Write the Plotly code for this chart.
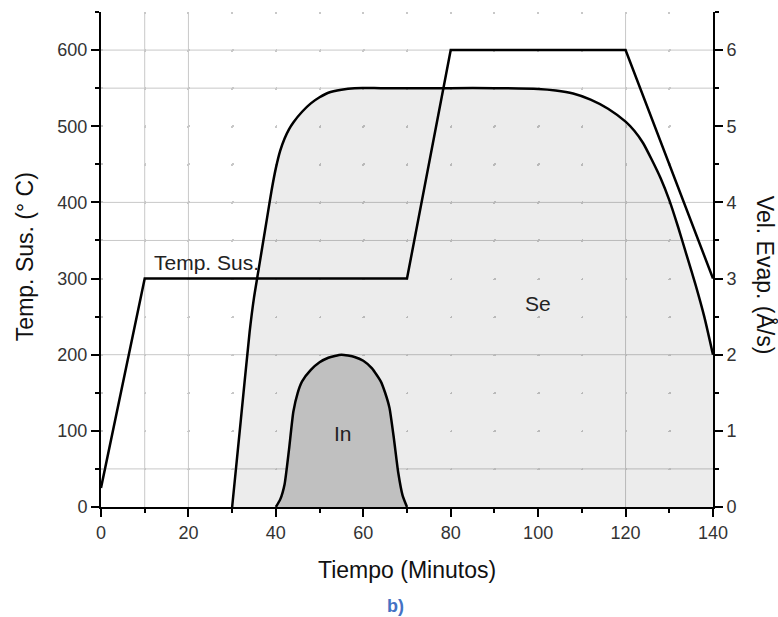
import plotly.graph_objects as go

# ---- data ----
temp_x = [0, 10, 70, 80, 120, 140]
temp_y = [25, 300, 300, 600, 600, 300]

se_x = [30, 32, 34, 35, 36, 37, 38, 39, 40, 41, 42, 43, 44, 46, 48, 50, 52, 55, 58, 64, 70, 80, 90,
        100, 104, 108, 112, 116, 120, 122, 124, 126, 128, 130, 132, 134, 136, 138, 140]
se_y = [0, 1.15, 2.3, 2.75, 3.1, 3.45, 3.8, 4.15, 4.45, 4.68, 4.84, 4.96, 5.05, 5.19, 5.3, 5.38, 5.44, 5.48, 5.5, 5.5, 5.5, 5.5, 5.5,
        5.49, 5.47, 5.43, 5.35, 5.23, 5.06, 4.94, 4.78, 4.56, 4.32, 4.03, 3.68, 3.3, 2.92, 2.5, 2.0]

in_x = [40, 41, 42, 43, 44, 45, 46, 48, 50, 52, 55, 58, 60, 62, 64, 65, 66, 67, 68, 69, 70]
in_y = [0, 0.1, 0.3, 0.75, 1.25, 1.5, 1.65, 1.8, 1.9, 1.96, 2.0, 1.97, 1.92, 1.82, 1.65, 1.5, 1.3, 0.9, 0.45, 0.15, 0]

x_ticks = [0, 20, 40, 60, 80, 100, 120, 140]
y_ticks = [0, 100, 200, 300, 400, 500, 600]
y2_ticks = [0, 1, 2, 3, 4, 5, 6]
grid_x_solid = [10, 20, 120]
grid_y_solid = [50, 200, 350, 400, 550, 600]

FONT = "Liberation Sans, Arial, sans-serif"
GRID = "#c8c8c8"

fig = go.Figure()
fig.add_trace(go.Scatter(x=se_x, y=se_y, yaxis="y2", mode="lines", fill="tozeroy",
                         fillcolor="rgba(0,0,0,0.075)",
                         line=dict(color="black", width=2.5, shape="spline", smoothing=0.6),
                         hoverinfo="skip", showlegend=False))
fig.add_trace(go.Scatter(x=in_x, y=in_y, yaxis="y2", mode="lines", fill="tozeroy",
                         fillcolor="#c0c0c0",
                         line=dict(color="black", width=2.5, shape="spline", smoothing=0.5),
                         hoverinfo="skip", showlegend=False))
fig.add_trace(go.Scatter(x=temp_x, y=temp_y, mode="lines", line=dict(color="black", width=2.5),
                         hoverinfo="skip", showlegend=False))

# solid grid lines (from the grid position lists)
for gx in grid_x_solid:
    fig.add_shape(type="line", xref="x", yref="paper", x0=gx, x1=gx, y0=0, y1=1,
                  line=dict(color=GRID, width=1), layer="below")
for gy in grid_y_solid:
    fig.add_shape(type="line", xref="paper", yref="y", x0=0, x1=1, y0=gy, y1=gy,
                  line=dict(color=GRID, width=1), layer="below")

tickfont = dict(family=FONT, size=18, color="#333")
fig.update_layout(
    width=778, height=617,
    margin=dict(l=101, r=65, t=12, b=110),
    paper_bgcolor="white", plot_bgcolor="white",
    font=dict(family=FONT, color="#222"),
    xaxis=dict(range=[0, 140], tickvals=x_ticks, ticks="outside", ticklen=8, tickwidth=2,
               tickcolor="black", showline=True, linewidth=2, linecolor="black",
               zeroline=False, tickfont=tickfont,
               showgrid=True, gridcolor=GRID, gridwidth=1.5, griddash="1.5px,36.58px",
               minor=dict(dtick=10, tick0=0, ticks="outside", ticklen=4, tickwidth=2, tickcolor="black",
                          showgrid=True, gridcolor=GRID, gridwidth=1.5, griddash="1.5px,36.58px")),
    yaxis=dict(range=[0, 650], tickvals=y_ticks, ticks="outside", ticklen=8, tickwidth=2,
               tickcolor="black", showline=True, linewidth=2, linecolor="black",
               zeroline=False, tickfont=tickfont,
               showgrid=True, gridcolor=GRID, gridwidth=1.5, griddash="1.5px,42.21px",
               minor=dict(dtick=50, tick0=0, ticks="outside", ticklen=4, tickwidth=2, tickcolor="black",
                          showgrid=True, gridcolor=GRID, gridwidth=1.5, griddash="1.5px,42.21px")),
    yaxis2=dict(range=[0, 6.5], overlaying="y", side="right", anchor="x", tickvals=y2_ticks,
                ticks="outside", ticklen=8, tickwidth=2, tickcolor="black",
                showline=True, linewidth=2, linecolor="black", showgrid=False, zeroline=False,
                tickfont=tickfont,
                minor=dict(dtick=0.5, tick0=0, ticks="outside", ticklen=4, tickwidth=2, tickcolor="black")),
    xaxis2=dict(range=[0, 140], overlaying="x", side="top", anchor="y", tickvals=x_ticks,
                ticks="inside", ticklen=7, tickwidth=2, tickcolor="black", showticklabels=False,
                showline=True, linewidth=2, linecolor="black", showgrid=False, zeroline=False,
                minor=dict(dtick=10, tick0=0, ticks="inside", ticklen=4, tickwidth=2, tickcolor="black")),
)

ann = [
    dict(text="Tiempo (Minutos)", xref="paper", yref="paper", x=0.5, y=-0.127,
         font=dict(size=23, color="#111")),
    dict(text="Temp. Sus. (° C)", xref="paper", yref="paper", x=-0.124, y=0.505, textangle=-90,
         font=dict(size=23, color="#111")),
    dict(text="Vel. Evap. (Å/s)", xref="paper", yref="paper", x=1.085, y=0.469, textangle=90,
         font=dict(size=23, color="#111")),
    dict(text="<b>b)</b>", xref="paper", yref="paper", x=0.482, y=-0.2,
         font=dict(size=18, color="#4472C4")),
    dict(text="Temp. Sus.", xref="x", yref="y", x=11.7, y=321, xanchor="left",
         font=dict(size=21, color="#222")),
    dict(text="Se", xref="x", yref="y2", x=100, y=2.67, font=dict(size=21, color="#222")),
    dict(text="In", xref="x", yref="y2", x=55.4, y=0.97, font=dict(size=21, color="#222")),
]
for a in ann:
    a.setdefault("showarrow", False)
    a.setdefault("xanchor", "center")
    a.setdefault("yanchor", "middle")
    fig.add_annotation(**a)

fig.write_html("out.html", config={"displayModeBar": False},
               post_script="document.body.style.margin='0px';")
